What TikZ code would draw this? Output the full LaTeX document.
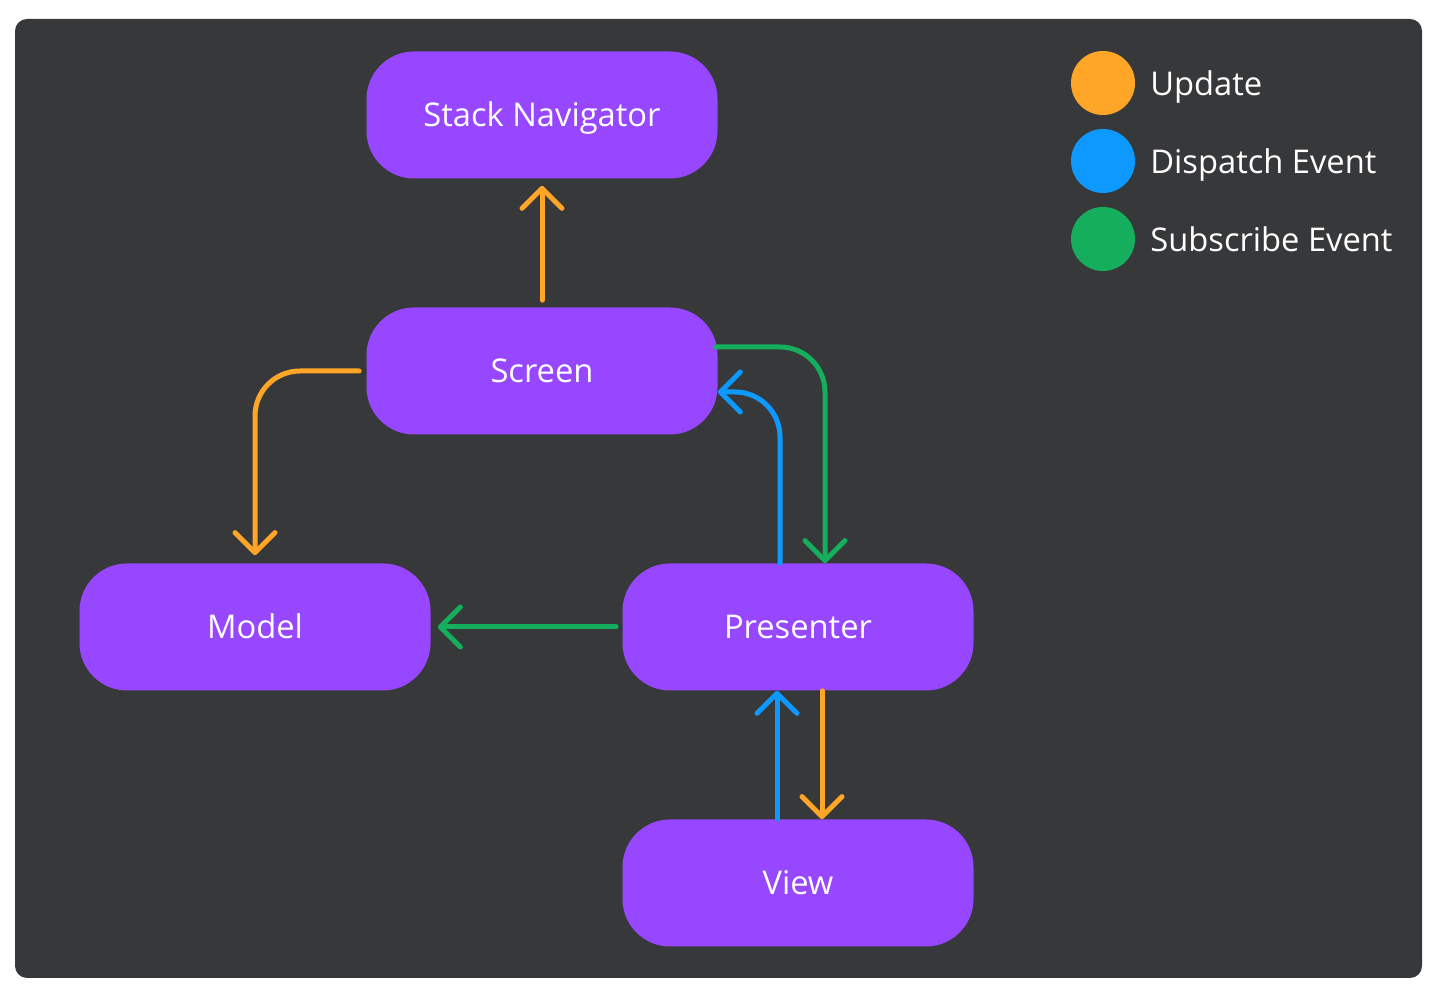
\documentclass[tikz,border=0pt]{standalone}
\usepackage{fontspec}
\setmainfont{Open Sans}
\usetikzlibrary{arrows.meta}
\definecolor{bgdark}{HTML}{37383A}
\definecolor{boxpurple}{HTML}{9747FF}
\definecolor{updorange}{HTML}{FFA629}
\definecolor{dispblue}{HTML}{0D99FF}
\definecolor{subgreen}{HTML}{14AE5C}
\begin{document}
\begin{tikzpicture}
  \tikzset{BoxStyle/.style = {shape=rectangle,rounded corners=0.95cm,fill=boxpurple,minimum width=7.02cm,minimum height=2.54cm,inner sep=0pt,text=white,text height=0.47cm,text depth=0pt,font=\fontsize{18.6}{22}\selectfont},
    FlowStyle/.style = {line width=0.1cm,line cap=round,rounded corners=0.9cm,-{Straight Barb[length=0.4cm,width=0.8cm,round]}},
    DotStyle/.style = {shape=circle,minimum size=1.28cm,inner sep=0pt},
    KeyStyle/.style = {anchor=west,text=white,inner sep=0pt,text height=0.47cm,text depth=0pt,font=\fontsize{18.6}{22}\selectfont}}
\useasboundingbox (0,0) rectangle (28.72,19.98);
\fill[bgdark,rounded corners=0.24cm] (0.30,0.42) rectangle (28.44,19.60);
%
\node[BoxStyle] (nav) at (10.84,17.68) {Stack Navigator};
\node[BoxStyle] (screen) at (10.84,12.56) {Screen};
\node[BoxStyle] (model) at (5.10,7.44) {Model};
\node[BoxStyle] (presenter) at (15.96,7.44) {Presenter};
\node[BoxStyle] (view) at (15.96,2.32) {View};
%
\node[DotStyle,fill=updorange] (dotupd) at (22.06,18.32) {};
\node[DotStyle,fill=dispblue] (dotdisp) at (22.06,16.76) {};
\node[DotStyle,fill=subgreen] (dotsub) at (22.06,15.20) {};
\node[KeyStyle] (keyupd) at (23.00,18.30) {Update};
\node[KeyStyle] (keydisp) at (23.00,16.74) {Dispatch Event};
\node[KeyStyle] (keysub) at (23.00,15.18) {Subscribe Event};
%
\draw[FlowStyle,updorange,shorten <=0.14cm,shorten >=0.14cm] (screen.north) -- (nav.south);
\draw[FlowStyle,updorange,shorten <=0.14cm,shorten >=0.16cm] (screen.west) -| (model.north);
\draw[FlowStyle,subgreen] ([yshift=0.48cm,xshift=-0.04cm]screen.east) -| ([xshift=0.54cm]presenter.north);
\draw[FlowStyle,dispblue] ([xshift=-0.36cm]presenter.north) |- ([yshift=-0.42cm]screen.east);
\draw[FlowStyle,subgreen,shorten <=0.12cm,shorten >=0.14cm] (presenter.west) -- (model.east);
\draw[FlowStyle,dispblue] ([xshift=-0.42cm]view.north) -- ([xshift=-0.42cm]presenter.south);
\draw[FlowStyle,updorange] ([xshift=0.48cm]presenter.south) -- ([xshift=0.48cm]view.north);
\end{tikzpicture}
\end{document}
